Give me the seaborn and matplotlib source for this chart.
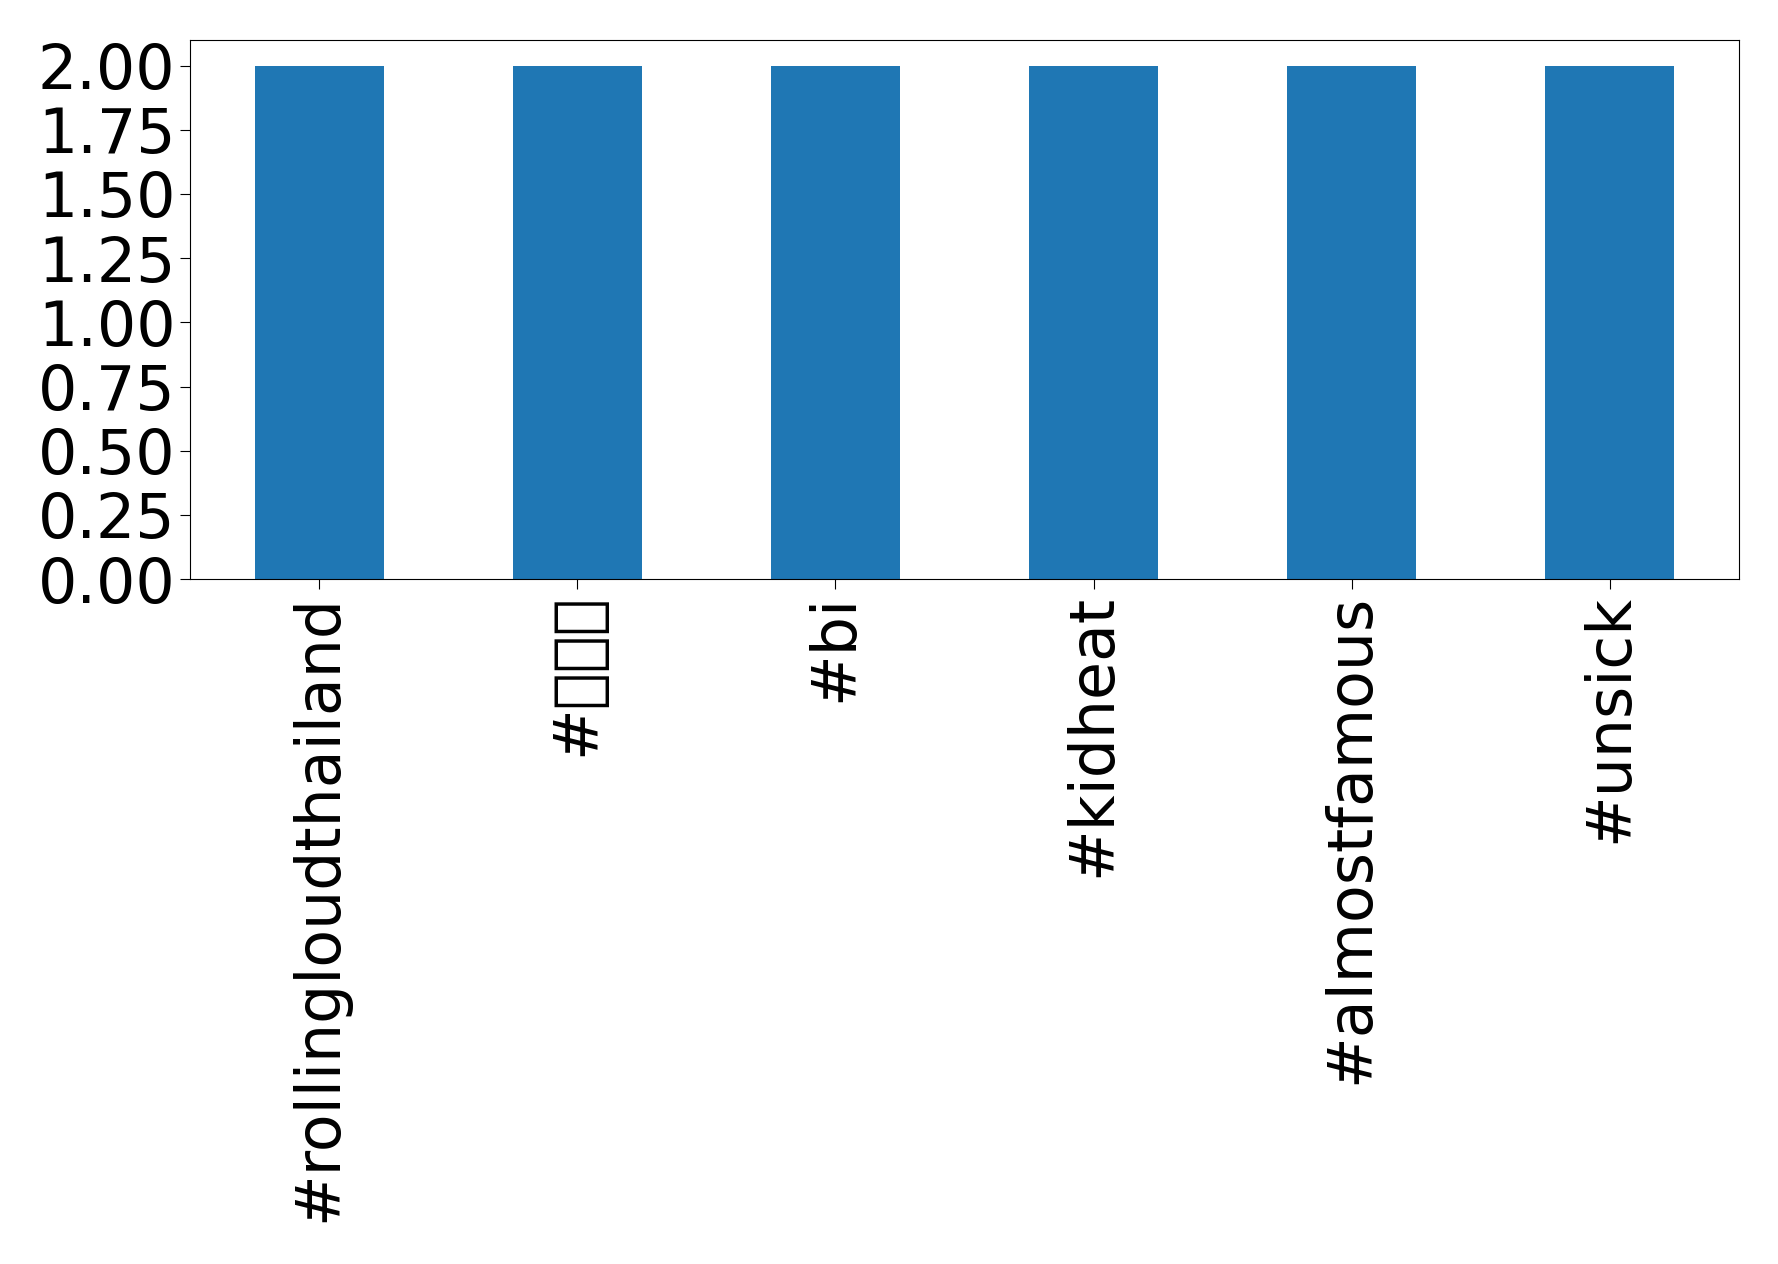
import matplotlib
matplotlib.use("Agg")
import matplotlib.pyplot as plt
import seaborn as sns
import pandas as pd

# hashtag counts
hashtags = ["#rollingloudthailand", "#ไทย", "#bi", "#kidheat", "#almostfamous", "#unsick"]
counts = [2, 2, 2, 2, 2, 2]

df = pd.DataFrame({"hashtag": hashtags, "count": counts})

# no installed family has Thai glyphs, so they show as boxes like in the reference
plt.rcParams['font.family'] = ['DejaVu Sans', 'Noto Sans', 'Noto Sans CJK SC']

fig = plt.figure(figsize=(17.78, 12.64), dpi=100)
ax = fig.add_axes([190 / 1778, 1 - 579 / 1264, (1739 - 190) / 1778, (579 - 40) / 1264])

sns.barplot(data=df, x="hashtag", y="count", color="#1f77b4", saturation=1,
            width=0.5, ax=ax)

ax.set_xlim(-0.5, 5.5)
ax.set_ylim(0, 2.1)
ax.set_xlabel("")
ax.set_ylabel("")
ax.tick_params(axis="both", labelsize=44.5, length=7)
plt.setp(ax.get_xticklabels(), rotation=90)
ax.set_yticks([0, 0.25, 0.5, 0.75, 1.0, 1.25, 1.5, 1.75, 2.0])
ax.set_yticklabels([f"{v:.2f}" for v in ax.get_yticks()])

fig.savefig("out.png", dpi=100)
